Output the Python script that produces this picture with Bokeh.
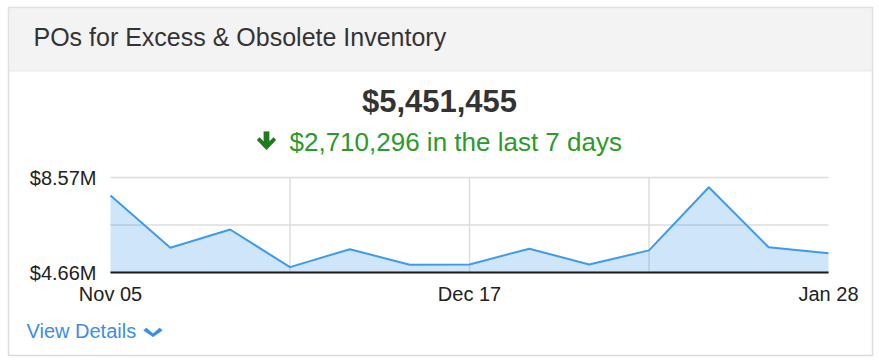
from bokeh.plotting import figure
from bokeh.models import (Range1d, FixedTicker, PrintfTickFormatter, Label,
                          BoxAnnotation, PolyAnnotation, ColumnDataSource)
from bokeh.embed import file_html
from bokeh.resources import INLINE

# ---- data ----
title_text = "POs for Excess & Obsolete Inventory"
total_text = "$5,451,455"
change_text = "$2,710,296 in the last 7 days"
link_text = "View Details"
week_labels = ["Nov 05", "Nov 12", "Nov 19", "Nov 26", "Dec 03", "Dec 10", "Dec 17",
               "Dec 24", "Dec 31", "Jan 07", "Jan 14", "Jan 21", "Jan 28"]
week_index = list(range(len(week_labels)))
values_m = [7.83, 5.68, 6.43, 4.88, 5.62, 4.98, 4.99, 5.64, 4.99, 5.57, 8.17, 5.70, 5.45]
y_min, y_max = 4.66, 8.57
y_mid = (y_min + y_max) / 2
x_tick_idx = [0, 6, 12]
x_grid_idx = [3, 6, 9]
y_grid_vals = [y_min, y_mid, y_max]

# ---- layout (page pixels) ----
W, H = 874, 358
CL, CR, CT, CB = 8, 872, 7, 355          # card edges
PL, PR, PT, PB = 110, 828, 177, 272      # chart area edges

x0, x1 = week_index[0], week_index[-1]
xs = (PR - PL) / (x1 - x0)
ys = (PB - PT) / (y_max - y_min)
x_range = Range1d(x0 - (PL - CL) / xs, x1 + (CR - PR) / xs)
y_range = Range1d(y_min - (CB - PB) / ys, y_max + (PT - CT) / ys)

p = figure(width=W, height=H, output_backend="svg", toolbar_location=None,
           x_range=x_range, y_range=y_range,
           min_border_left=CL, min_border_right=W - CR, min_border_top=CT,
           min_border_bottom=H - CB)
p.outline_line_color = "#dcdcdc"
p.outline_line_width = 1.5
p.background_fill_color = "white"
p.border_fill_color = "white"
p.xgrid.visible = False
p.ygrid.visible = False

def sx(px):
    return px - CL

def sy(py):
    return CB - py

# header band
p.add_layout(BoxAnnotation(left=sx(CL), right=sx(CR), top=sy(CT), bottom=sy(70.5),
                           left_units="screen", right_units="screen",
                           top_units="screen", bottom_units="screen",
                           fill_color="#f3f3f3", fill_alpha=1, line_color="#dcdcdc",
                           line_width=1.5, level="underlay"))

# grid lines (data space)
gsrc_v = ColumnDataSource(dict(x=x_grid_idx, y0=[y_min] * len(x_grid_idx), y1=[y_max] * len(x_grid_idx)))
gsrc_h = ColumnDataSource(dict(y=y_grid_vals, x0=[x0] * len(y_grid_vals), x1=[x1] * len(y_grid_vals)))
p.segment(x0="x", y0="y0", x1="x", y1="y1", source=gsrc_v, line_color="#dddddd", line_width=1.5)
p.segment(x0="x0", y0="y", x1="x1", y1="y", source=gsrc_h, line_color="#dddddd", line_width=1.5)

# chart
src = ColumnDataSource(dict(x=week_index, y=values_m, base=[y_min] * len(values_m)))
p.varea(x="x", y1="base", y2="y", source=src, fill_color="#2f8ee5", fill_alpha=0.23)
p.line(x="x", y="y", source=src, line_color="#3d9be9", line_width=2)

# axes
xa = p.xaxis[0]
xa.fixed_location = y_min
xa.bounds = (x0, x1)
xa.ticker = FixedTicker(ticks=x_tick_idx)
xa.major_label_overrides = {i: week_labels[i] for i in x_tick_idx}
xa.axis_line_color = "#1a1a1a"
xa.axis_line_width = 2
xa.major_tick_in = 0
xa.major_tick_out = 0
xa.minor_tick_line_color = None
xa.major_label_text_font = "Liberation Sans"
xa.major_label_text_font_size = "20px"
xa.major_label_text_color = "#222222"
xa.major_label_standoff = 10

ya = p.yaxis[0]
ya.fixed_location = x0
ya.ticker = FixedTicker(ticks=[y_min, y_max])
ya.formatter = PrintfTickFormatter(format="$%.2fM")
ya.axis_line_color = None
ya.major_tick_in = 0
ya.major_tick_out = 0
ya.minor_tick_line_color = None
ya.major_label_text_font = "Liberation Sans"
ya.major_label_text_font_size = "20px"
ya.major_label_text_color = "#222222"
ya.major_label_standoff = 14

def lab(x, y, text, size, color, align="left", bold=False, font="Liberation Sans"):
    p.add_layout(Label(x=sx(x), y=sy(y), x_units="screen", y_units="screen", text=text,
                       text_font=font, text_font_size=size, text_color=color,
                       text_align=align, text_baseline="alphabetic",
                       text_font_style="bold" if bold else "normal"))

def poly(pts, color):
    p.add_layout(PolyAnnotation(xs=[sx(a) for a, b in pts], ys=[sy(b) for a, b in pts],
                                xs_units="screen", ys_units="screen",
                                fill_color=color, fill_alpha=1, line_color=color,
                                line_width=0.5))

lab(33, 36.5, title_text, "25px", "#333333")
lab(439, 100.5, total_text, "31px", "#333333", align="center", bold=True)
lab(289, 141, change_text, "26px", "#2b9a2b")
lab(26, 330, link_text, "20px", "#3a8ee6")

# down-arrow icon
c = 266
poly([(c - 2.8, 131), (c + 2.8, 131), (c + 2.8, 141), (c + 7, 136.8), (c + 9.6, 139.6),
      (c, 149.4), (c - 9.6, 139.6), (c - 7, 136.8), (c - 2.8, 141)], "#1e7b1e")
# chevron icon
poly([(143, 330), (145.8, 327.2), (152.5, 333), (159.2, 327.2), (162, 330), (152.5, 336.5)],
     "#3a8ee6")

open("out.html", "w").write(file_html(p, INLINE))
